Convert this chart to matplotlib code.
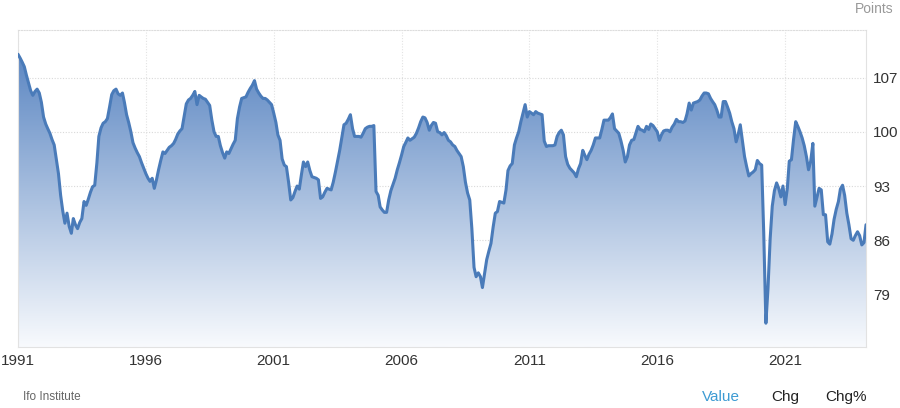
import numpy as np
import pandas as pd
import matplotlib
matplotlib.use("Agg")
import matplotlib.pyplot as plt
import matplotlib.dates as mdates
from matplotlib.patches import PathPatch
from matplotlib.path import Path

plt.rcParams['font.family'] = ['Liberation Sans', 'DejaVu Sans']

# Ifo business climate, monthly, Jan 1991 - Mar 2024 (points)
y1991 = [110.0, 109.5, 109.0, 108.4, 107.3, 106.3, 105.3, 104.7, 105.2, 105.5, 105.0, 103.8]
y1992 = [101.9, 101.0, 100.4, 99.8, 99.0, 98.3, 96.5, 94.6, 91.8, 89.8, 88.2, 89.5]
y1993 = [87.8, 86.9, 88.8, 88.0, 87.5, 88.3, 88.8, 91.0, 90.5, 91.3, 92.2, 92.9]
y1994 = [93.1, 96.0, 99.4, 100.5, 101.1, 101.3, 101.7, 103.2, 104.8, 105.3, 105.5, 104.9]
y1995 = [104.7, 105.0, 103.8, 102.2, 101.2, 100.0, 98.6, 97.9, 97.3, 96.8, 96.0, 95.3]
y1996 = [94.6, 94.0, 93.6, 94.0, 92.7, 93.8, 95.1, 96.3, 97.4, 97.2, 97.6, 98.0]
y1997 = [98.2, 98.5, 99.0, 99.7, 100.1, 100.4, 102.0, 103.6, 104.1, 104.3, 104.7, 105.2]
y1998 = [103.5, 104.7, 104.5, 104.3, 104.2, 103.8, 103.4, 101.5, 100.0, 99.4, 99.4, 98.2]
y1999 = [97.3, 96.6, 97.4, 97.2, 97.8, 98.4, 98.9, 101.7, 103.2, 104.3, 104.4, 104.5]
y2000 = [105.1, 105.6, 106.0, 106.6, 105.5, 105.0, 104.6, 104.3, 104.3, 104.1, 103.8, 103.5]
y2001 = [102.4, 101.2, 99.6, 98.9, 96.5, 95.7, 95.5, 93.5, 91.2, 91.5, 92.3, 93.0]
y2002 = [92.6, 94.5, 96.1, 95.5, 96.1, 95.0, 94.2, 94.1, 94.0, 93.8, 91.4, 91.6]
y2003 = [92.2, 92.7, 92.6, 92.5, 93.5, 94.8, 96.2, 97.6, 99.3, 100.9, 101.1, 101.6]
y2004 = [102.2, 100.4, 99.4, 99.4, 99.4, 99.3, 99.8, 100.4, 100.6, 100.7, 100.7, 100.8]
y2005 = [92.3, 91.8, 90.3, 89.9, 89.6, 89.6, 91.2, 92.4, 93.2, 94.0, 95.1, 96.0]
y2006 = [97.0, 98.1, 98.6, 99.2, 98.9, 99.1, 99.3, 99.8, 100.5, 101.3, 101.9, 101.8]
y2007 = [101.2, 100.2, 100.8, 101.2, 101.1, 100.0, 99.9, 99.6, 99.9, 99.5, 98.9, 98.7]
y2008 = [98.3, 98.1, 97.6, 97.2, 96.8, 95.5, 93.5, 92.1, 91.2, 87.5, 82.5, 81.3]
y2009 = [81.8, 81.3, 79.9, 81.7, 83.5, 84.6, 85.6, 87.7, 89.5, 89.7, 91.0, 90.9]
y2010 = [90.8, 92.5, 95.0, 95.6, 95.9, 98.3, 99.2, 100.0, 101.3, 102.4, 103.5, 101.9]
y2011 = [102.6, 102.4, 102.2, 102.6, 102.4, 102.3, 102.2, 98.8, 98.1, 98.2, 98.2, 98.2]
y2012 = [98.3, 99.4, 99.9, 100.2, 99.6, 96.8, 95.8, 95.3, 95.0, 94.7, 94.2, 95.2]
y2013 = [95.9, 97.6, 97.0, 96.4, 97.1, 97.6, 98.3, 99.2, 99.2, 99.2, 100.3, 101.5]
y2014 = [101.5, 101.5, 101.8, 102.3, 100.4, 100.1, 99.8, 98.8, 97.6, 96.1, 96.8, 98.3]
y2015 = [98.9, 99.0, 99.8, 100.7, 100.3, 100.2, 100.0, 100.7, 100.3, 101.0, 100.8, 100.4]
y2016 = [100.0, 98.9, 99.6, 100.1, 100.2, 100.2, 100.0, 100.6, 101.0, 101.6, 101.3, 101.3]
y2017 = [101.2, 101.4, 102.3, 103.7, 102.8, 103.7, 103.8, 103.9, 104.1, 104.6, 105.0, 105.0]
y2018 = [104.9, 104.3, 103.9, 103.5, 102.8, 101.9, 101.9, 103.9, 103.9, 103.2, 102.4, 101.3]
y2019 = [100.4, 98.7, 99.6, 100.9, 98.9, 96.8, 95.5, 94.3, 94.6, 94.8, 95.1, 96.3]
y2020 = [95.9, 95.7, 87.0, 75.3, 79.8, 86.2, 90.4, 92.4, 93.4, 92.7, 91.6, 93.0]
y2021 = [90.6, 92.7, 96.2, 96.4, 99.0, 101.3, 100.7, 100.0, 99.2, 98.2, 96.8, 95.1]
y2022 = [96.2, 98.5, 90.4, 91.6, 92.7, 92.5, 89.3, 89.3, 85.8, 85.5, 86.8, 88.7]
y2023 = [90.0, 91.0, 92.6, 93.1, 91.8, 89.5, 88.0, 86.2, 86.0, 86.6, 87.1, 86.6]
y2024 = [85.4, 85.7, 88.0]

years_data = [y1991, y1992, y1993, y1994, y1995, y1996, y1997, y1998, y1999, y2000,
              y2001, y2002, y2003, y2004, y2005, y2006, y2007, y2008, y2009, y2010,
              y2011, y2012, y2013, y2014, y2015, y2016, y2017, y2018, y2019, y2020,
              y2021, y2022, y2023, y2024]
values = np.array([v for yr in years_data for v in yr])
dates = pd.date_range("1991-01-01", periods=len(values), freq="MS")

tick_years = [1991, 1996, 2001, 2006, 2011, 2016, 2021]
y_ticks = [79, 86, 93, 100, 107]

fig = plt.figure(figsize=(9.0, 4.08), dpi=100)
ax = fig.add_axes([18/900, 1-347/408, (866-18)/900, (347-30)/408])

x = mdates.date2num(dates.to_pydatetime())
ymin, ymax = 72.23, 113.13

# gradient fill under the line
verts = [(x[0], ymin)] + list(zip(x, values)) + [(x[-1], ymin), (x[0], ymin)]
codes = [Path.MOVETO] + [Path.LINETO] * (len(verts) - 2) + [Path.CLOSEPOLY]
clip = PathPatch(Path(verts, codes), facecolor='none', edgecolor='none')
ax.add_patch(clip)
top = np.array([80, 126, 190]) / 255
bot = np.array([248, 250, 253]) / 255
n = 256
f = np.linspace(0, 1, n)[:, None]
grad = top[None, :] * (1 - f) + bot[None, :] * f
grad = grad[:, None, :]
im = ax.imshow(grad, extent=[x[0], x[-1], ymin, ymax], aspect='auto',
               origin='upper', zorder=1, interpolation='bilinear')
im.set_clip_path(clip)

ax.plot(x, values, color='#4a7bb9', lw=2.2, zorder=3,
        solid_joinstyle='round', solid_capstyle='round')

ax.set_xlim(x[0], x[-1])
ax.set_ylim(ymin, ymax)

ax.set_xticks(mdates.date2num([pd.Timestamp(f"{yy}-01-01").to_pydatetime() for yy in tick_years]))
ax.set_xticklabels([str(yy) for yy in tick_years])
ax.set_yticks(y_ticks)
ax.set_yticklabels([str(v) for v in y_ticks])
ax.yaxis.tick_right()
ax.tick_params(axis='both', length=0, labelsize=11, colors='#333333')
ax.tick_params(axis='x', pad=5)
ax.tick_params(axis='y', pad=5)

ax.grid(True, axis='y', linestyle=(0, (1, 1.5)), color='#d9d9d9', lw=0.8, zorder=0)
ax.grid(True, axis='x', linestyle=(0, (1, 1.5)), color='#e3e3e3', lw=0.8, zorder=0)
ax.set_axisbelow(True)

for side in ['left', 'right', 'bottom']:
    ax.spines[side].set_color('#e2e2e2')
    ax.spines[side].set_linewidth(0.8)
ax.spines['top'].set_color('#dddddd')
ax.spines['top'].set_linestyle((0, (1, 1.5)))
ax.spines['top'].set_linewidth(0.8)

fig.text(894/900, 1-9/408, "Points", ha='right', va='center', fontsize=10, color='#999999')
fig.text(23/900, 1-397/408, "Ifo Institute", ha='left', va='center', fontsize=8.5, color='#666666')
fig.text(721/900, 1-397/408, "Value", ha='center', va='center', fontsize=11, color='#3d9bd3')
fig.text(785/900, 1-397/408, "Chg", ha='center', va='center', fontsize=11, color='#222222')
fig.text(846/900, 1-397/408, "Chg%", ha='center', va='center', fontsize=11, color='#222222')

fig.savefig("out.png", dpi=100)
